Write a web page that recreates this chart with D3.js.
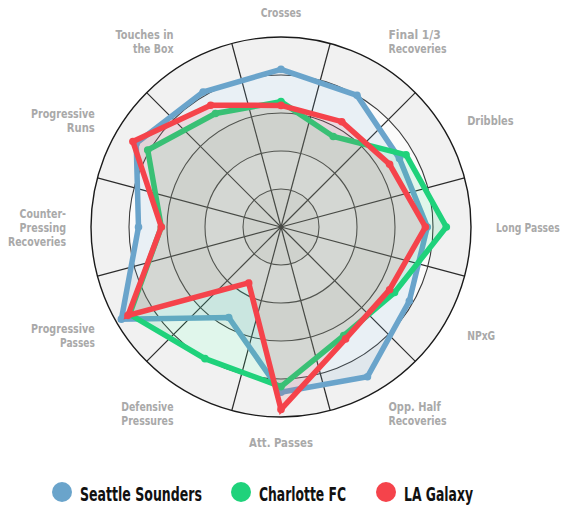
<!DOCTYPE html>
<html>
<head>
<meta charset="utf-8">
<script src="https://cdn.jsdelivr.net/npm/d3@7"></script>
<style>
  body { margin: 0; background: #fff; }
  svg { display: block; }
  text { font-family: 'DejaVu Sans Condensed', 'DejaVu Sans', sans-serif; font-stretch: condensed; font-weight: bold; }
</style>
</head>
<body>
<script>
// metrics, clockwise from the top
var metrics = [
    ["Crosses"],
    ["Final 1/3", "Recoveries"],
    ["Dribbles"],
    ["Long Passes"],
    ["NPxG"],
    ["Opp. Half", "Recoveries"],
    ["Att. Passes"],
    ["Defensive", "Pressures"],
    ["Progressive", "Passes"],
    ["Counter-", "Pressing", "Recoveries"],
    ["Progressive", "Runs"],
    ["Touches in", "the Box"]
];

var teams = ["Seattle Sounders", "Charlotte FC", "LA Galaxy"];
var teamColors = ["#6aa4cb", "#1fd27b", "#f5434b"];

// percentile values, same order as metrics
var seattle   = [83, 80, 72, 77, 78, 91, 87, 55, 97, 75, 88, 82];
var charlotte = [66, 55, 76, 87, 69, 66, 84, 80, 92, 63, 81, 69];
var galaxy    = [64, 64, 66, 76, 66, 68, 96, 34, 93, 63, 90, 74];
var series = [seattle, charlotte, galaxy];

var ringTicks = [20, 40, 60, 80, 100];

var width = 562, height = 510;
var cx = 281, cy = 227, R = 190;

var svg = d3.select("body").append("svg")
    .attr("width", width)
    .attr("height", height);

var r = d3.scaleLinear().domain([0, 100]).range([0, R]);
var angle = d3.scaleLinear().domain([0, metrics.length]).range([0, 2 * Math.PI]);

var g = svg.append("g").attr("transform", "translate(" + cx + "," + cy + ")");

function px(i, v) { return r(v) * Math.sin(angle(i)); }
function py(i, v) { return -r(v) * Math.cos(angle(i)); }

// squeeze a text if it runs wider than the reference
function fit(sel, w) {
    var n = sel.node();
    if (n.getComputedTextLength() > w) {
        sel.attr("textLength", w).attr("lengthAdjust", "spacingAndGlyphs");
    }
}

// ring backgrounds, biggest first
var ringFill = ["#f1f1f1", "#fbfbfb", "#f3f3f3", "#fbfbfb", "#f3f3f3"];
g.selectAll(".ringbg")
    .data(ringTicks.slice().reverse())
    .enter().append("circle")
    .attr("r", d => r(d))
    .attr("fill", (d, i) => ringFill[i])
    .attr("stroke", "none");

// spokes between the metrics
g.selectAll(".spoke")
    .data(metrics)
    .enter().append("line")
    .attr("x1", 0).attr("y1", 0)
    .attr("x2", (d, i) => px(i + 0.5, 100))
    .attr("y2", (d, i) => py(i + 0.5, 100))
    .attr("stroke", "#2b2b2b")
    .attr("stroke-width", 1.2);

g.selectAll(".ring")
    .data(ringTicks)
    .enter().append("circle")
    .attr("r", d => r(d))
    .attr("fill", "none")
    .attr("stroke", (d) => d == 100 ? "#1a1a1a" : "#3a3a3a")
    .attr("stroke-width", (d) => d == 100 ? 1.4 : 1.1);

// teams
var line = d3.lineRadial()
    .angle((d, i) => angle(i))
    .radius(d => r(d))
    .curve(d3.curveLinearClosed);

series.forEach(function (vals, k) {
    var tg = g.append("g").attr("class", "team");
    tg.append("path")
        .attr("d", line(vals))
        .attr("fill", teamColors[k])
        .attr("fill-opacity", 0.12)
        .attr("stroke", teamColors[k])
        .attr("stroke-width", 5.5)
        .attr("stroke-linejoin", "miter");
    tg.selectAll("circle")
        .data(vals)
        .enter().append("circle")
        .attr("cx", (d, i) => px(i, d))
        .attr("cy", (d, i) => py(i, d))
        .attr("r", 3.8)
        .attr("fill", teamColors[k]);
});

// metric labels
var labelR = 215, lh = 14;
metrics.forEach(function (lines, i) {
    var x = px(i, 100 * labelR / R), y = py(i, 100 * labelR / R);
    var s = Math.sin(angle(i));
    var anchor = Math.abs(s) < 0.01 ? "middle" : (s > 0 ? "start" : "end");
    var t = g.append("text")
        .attr("x", x)
        .attr("y", y - (lines.length - 1) * lh / 2)
        .attr("text-anchor", anchor)
        .attr("dominant-baseline", "central")
        .attr("font-size", 13)
        .attr("fill", "#a9a9a9");
    lines.forEach(function (l, j) {
        var sp = t.append("tspan").attr("x", x).attr("dy", j == 0 ? 0 : lh).text(l);
        fit(sp, Math.max(l.length * 5.8, 28));
    });
});

// legend
var legendX = [62, 241, 386];
var legendW = [122, 87, 69];
var lg = svg.append("g");
teams.forEach(function (name, k) {
    lg.append("circle")
        .attr("cx", legendX[k]).attr("cy", 492)
        .attr("r", 10)
        .attr("fill", teamColors[k]);
    var t = lg.append("text")
        .attr("x", legendX[k] + 18).attr("y", 501)
        .attr("font-size", 20)
        .attr("fill", "#111")
        .text(name);
    fit(t, legendW[k]);
});
</script>
</body>
</html>
